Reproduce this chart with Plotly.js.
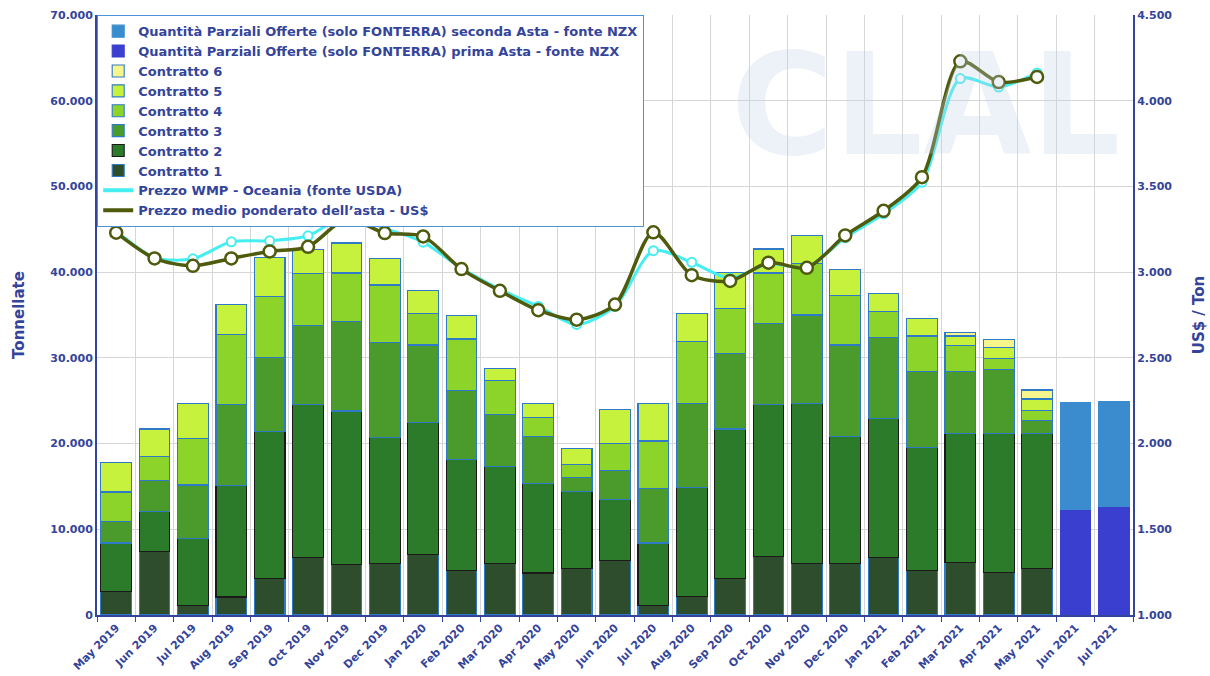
<!DOCTYPE html>
<html>
<head>
<meta charset="utf-8">
<script src="https://cdn.plot.ly/plotly-3.0.1.min.js"></script>
<style>html,body{margin:0;padding:0;background:#fff;}#chart{width:1210px;height:676px;}</style>
</head>
<body>
<div id="chart"></div>
<script>
var months = ['May 2019','Jun 2019','Jul 2019','Aug 2019','Sep 2019','Oct 2019','Nov 2019','Dec 2019','Jan 2020','Feb 2020','Mar 2020','Apr 2020','May 2020','Jun 2020','Jul 2020','Aug 2020','Sep 2020','Oct 2020','Nov 2020','Dec 2020','Jan 2021','Feb 2021','Mar 2021','Apr 2021','May 2021','Jun 2021','Jul 2021'];

var contratto1 = [2700,7450,1100,2100,4250,6700,5900,6050,7050,5150,6050,4900,5450,6400,1100,2150,4300,6800,6050,6050,6700,5150,6100,5000,5450,null,null];
var contratto2 = [5700,4650,7800,13000,17150,17900,17900,14650,15450,12950,11250,10400,8950,7050,7300,12750,17400,17800,18650,14800,16200,14350,15100,16200,15750,null,null];
var contratto3 = [2500,3600,6270,9500,8600,9200,10400,11100,9000,8100,6100,5500,1600,3400,6400,9800,8800,9400,10300,10650,9450,8950,7250,7450,1500,null,null];
var contratto4 = [3450,2750,5380,8100,7200,6000,5700,6700,3700,6000,4000,2200,1600,3150,5500,7200,5300,5900,6000,5800,3050,4100,3000,1250,1150,null,null];
var contratto5 = [3450,3250,4150,3500,4500,2800,3500,3100,2700,2700,1400,1700,1850,4000,4400,3300,4200,2800,3300,3050,2100,2050,1100,1300,1350,null,null];
var contratto6 = [null,null,null,null,null,null,null,null,null,null,null,null,null,null,null,null,null,null,null,null,null,null,400,950,1050,null,null];
var primaAsta = [null,null,null,null,null,null,null,null,null,null,null,null,null,null,null,null,null,null,null,null,null,null,null,null,null,12350,12650];
var secondaAsta = [null,null,null,null,null,null,null,null,null,null,null,null,null,null,null,null,null,null,null,null,null,null,null,null,null,12400,12250];

var prezzoWMP = [3240,3085,3078,3177,3183,3212,3330,3255,3175,3022,2900,2800,2695,2800,3125,3057,2965,3048,3030,3200,3340,3525,4129,4080,4162,null,null];
var prezzoMedio = [3230,3080,3037,3080,3121,3148,3310,3228,3208,3018,2891,2778,2723,2811,3232,2982,2949,3055,3025,3214,3358,3554,4230,4109,4139,null,null];

var navy = '#34449a';
var outline = '#2f7ac6';

function bar(name, y, color, lineColor, rank) {
  return {type:'bar', name:name, x:months, y:y, yaxis:'y',
    marker:{color:color, line:{color:lineColor, width:1.1}},
    legendrank:rank, hoverinfo:'skip'};
}

var nullY = months.map(function(){return null;});

var data = [
  bar('Contratto 1', contratto1, '#2e4d2c', outline, 8),
  bar('Contratto 2', contratto2, '#2b7b2b', '#1a1a1a', 7),
  bar('Contratto 3', contratto3, '#4b9b2c', outline, 6),
  bar('Contratto 4', contratto4, '#8cd42a', outline, 5),
  bar('Contratto 5', contratto5, '#c6f23e', outline, 4),
  bar('Contratto 6', contratto6, '#f6f68c', outline, 3),
  bar('Quantità Parziali Offerte (solo FONTERRA) prima Asta - fonte NZX', primaAsta, '#3a3fcf', '#3a3fcf', 2),
  bar('Quantità Parziali Offerte (solo FONTERRA) seconda Asta - fonte NZX', secondaAsta, '#3a8cce', '#3a8cce', 1),
  {type:'scatter', mode:'lines+markers', name:'Prezzo WMP - Oceania (fonte USDA)', x:months, y:prezzoWMP, yaxis:'y2',
    line:{color:'#45eef0', width:3, shape:'spline', smoothing:0.8},
    marker:{size:9, color:'#ffffff', line:{color:'#45eef0', width:2}}, showlegend:false},
  {type:'scatter', mode:'lines+markers', name:'Prezzo medio ponderato dell\u2019asta - US$', x:months, y:prezzoMedio, yaxis:'y2',
    line:{color:'#4f5a0c', width:3.5, shape:'spline', smoothing:0.8},
    marker:{size:12, color:'#ffffff', line:{color:'#4f5a0c', width:2.5}}, showlegend:false},
  {type:'scatter', mode:'lines', name:'Prezzo WMP - Oceania (fonte USDA)', x:months, y:nullY, yaxis:'y2',
    line:{color:'#45eef0', width:4}, legendrank:9},
  {type:'scatter', mode:'lines', name:'Prezzo medio ponderato dell\u2019asta - US$', x:months, y:nullY, yaxis:'y2',
    line:{color:'#4f5a0c', width:4}, legendrank:10}
];

var tickFont = {family:'DejaVu Sans', size:11, color:navy, weight:'bold'};

var layout = {
  width:1210, height:676,
  margin:{l:97, r:77, t:15, b:61},
  paper_bgcolor:'#ffffff', plot_bgcolor:'#ffffff',
  separators:',.',
  barmode:'stack', bargap:0.2,
  showlegend:true,
  legend:{x:0, y:1, xanchor:'left', yanchor:'top', bgcolor:'#ffffff', bordercolor:'#4a93d6', borderwidth:1.2,
    font:{family:'DejaVu Sans', size:13, color:navy, weight:'bold'}, traceorder:'normal', itemwidth:30},
  xaxis:{type:'category', range:[-0.5, 26.5], tickson:'boundaries', tickangle:-45, tickfont:tickFont,
    showgrid:true, gridcolor:'#d6d6d6', gridwidth:1,
    ticks:'outside', ticklen:5, tickcolor:navy,
    showline:true, linecolor:navy, linewidth:2, automargin:false},
  yaxis:{range:[0,70000], dtick:10000, tickformat:',.0f', tickfont:tickFont,
    showgrid:true, gridcolor:'#d6d6d6', gridwidth:1, zeroline:false,
    showline:true, linecolor:navy, linewidth:2, ticks:'', automargin:false,
    title:{text:'Tonnellate', font:{family:'DejaVu Sans', size:15, color:navy, weight:'bold'}, standoff:22}},
  yaxis2:{range:[1000,4500], dtick:500, tickformat:',.0f', tickfont:tickFont, overlaying:'y', side:'right',
    showgrid:false, zeroline:false, showline:true, linecolor:navy, linewidth:2, ticks:'', automargin:false,
    title:{text:'US$ / Ton', font:{family:'DejaVu Sans', size:15, color:navy, weight:'bold'}, standoff:22}},
  annotations:[{text:'<b>CLAL</b>', xref:'paper', yref:'paper', x:0.80, y:0.85, xanchor:'center', yanchor:'middle', showarrow:false,
    font:{family:'DejaVu Sans', size:140, color:'rgba(196,208,232,0.30)'}}]
};

Plotly.newPlot('chart', data, layout, {displayModeBar:false, staticPlot:true});
</script>
</body>
</html>
